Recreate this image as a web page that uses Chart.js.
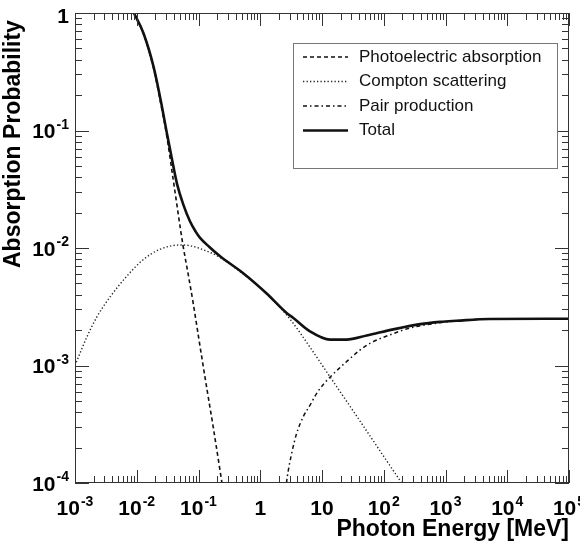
<!DOCTYPE html>
<html>
<head>
<meta charset="utf-8">
<script src="https://cdn.jsdelivr.net/npm/chart.js@4.4.1/dist/chart.umd.min.js"></script>
<style>
  html, body { margin: 0; padding: 0; background: #fff; }
  #wrap { width: 580px; height: 547px; position: relative; }
</style>
</head>
<body>
<div id="wrap"><canvas id="chart"></canvas></div>
<script>
// values (energy in MeV, probability)
const peEnergy = [0.009, 0.0129, 0.0187, 0.025, 0.0306, 0.039, 0.056, 0.068, 0.082, 0.106, 0.135, 0.173, 0.24];
const peProb = [1, 0.66, 0.34, 0.16, 0.09, 0.038, 0.0106, 0.006, 0.0034, 0.00145, 0.00066, 0.0003, 0.0001];

const comptonEnergy = [0.001, 0.00155, 0.00224, 0.00372, 0.0069, 0.012, 0.024, 0.05, 0.07, 0.1, 0.224, 0.53, 1.27, 3.0, 6.4, 13.5, 28, 61, 113, 195];
const comptonProb = [0.001, 0.00174, 0.00257, 0.00385, 0.00575, 0.00776, 0.00977, 0.0106, 0.0105, 0.01, 0.0083, 0.006, 0.0041, 0.0025, 0.00143, 0.0008, 0.000455, 0.000248, 0.000153, 0.0001];

const pairEnergy = [2.66, 2.74, 3.23, 3.89, 4.98, 6.4, 8.2, 10.5, 14.3, 25, 41, 61, 143, 300, 720, 1500, 5200, 100000];
const pairProb = [0.0001, 0.000113, 0.000179, 0.000265, 0.000367, 0.00046, 0.00058, 0.00069, 0.00082, 0.00108, 0.00135, 0.00155, 0.00187, 0.00212, 0.00229, 0.0024, 0.00249, 0.0025];

const totalEnergy = [0.009, 0.0129, 0.0187, 0.025, 0.031, 0.039, 0.045, 0.0566, 0.073, 0.09, 0.106, 0.15, 0.224, 0.53, 1.27, 2.67, 3.4, 6.4, 13.5, 25, 53, 143, 390, 820, 1500, 5200, 100000];
const totalProb = [1, 0.67, 0.35, 0.17, 0.093, 0.05, 0.035, 0.0235, 0.0168, 0.0138, 0.0122, 0.0102, 0.0085, 0.0061, 0.0041, 0.0028, 0.00255, 0.00195, 0.00166, 0.00166, 0.0018, 0.00203, 0.00225, 0.00235, 0.0024, 0.00249, 0.0025];

const xTickValues = [1e-3, 1e-2, 1e-1, 1, 10, 1e2, 1e3, 1e4, 1e5];
const xTickLabels = ["10^-3", "10^-2", "10^-1", "1", "10", "10^2", "10^3", "10^4", "10^5"];
const yTickValues = [1e-4, 1e-3, 1e-2, 1e-1, 1];
const yTickLabels = ["10^-4", "10^-3", "10^-2", "10^-1", "1"];

const FONT = "'Liberation Sans', Arial, Helvetica, sans-serif";

function pts(xs, ys) {
  return xs.map((x, i) => ({ x: x, y: ys[i] }));
}

function drawPow(ctx, label, x, y, align) {
  const parts = label.split("^");
  const base = parts[0], exp = parts[1] || "";
  ctx.font = "bold 21px " + FONT;
  const wb = ctx.measureText(base).width;
  ctx.font = "bold 14px " + FONT;
  const we = exp ? ctx.measureText(exp).width + 1 : 0;
  const w = wb + we;
  const x0 = align === "right" ? x - w : x - w / 2;
  ctx.textAlign = "left";
  ctx.textBaseline = "alphabetic";
  ctx.font = "bold 21px " + FONT;
  ctx.fillText(base, x0, y);
  if (exp) {
    ctx.font = "bold 14px " + FONT;
    ctx.fillText(exp, x0 + wb + 1, y - 9.5);
  }
}

const axesPlugin = {
  id: "axesPlugin",
  afterDatasetsDraw(chart) {
    const ctx = chart.ctx;
    const a = chart.chartArea;
    const xs = chart.scales.x, ys = chart.scales.y;
    ctx.save();

    // frame
    ctx.strokeStyle = "#333";
    ctx.lineWidth = 1;
    ctx.setLineDash([]);
    ctx.strokeRect(a.left + 0.5, a.top + 0.5, a.right - a.left - 1, a.bottom - a.top - 1);

    // inward ticks
    ctx.beginPath();
    for (let d = -3; d <= 5; d++) {
      for (let m = 1; m <= 9; m++) {
        const v = m * Math.pow(10, d);
        if (v > 1e5 * 1.0001) break;
        const px = Math.round(xs.getPixelForValue(v)) + 0.5;
        const len = m === 1 ? 13 : 7;
        ctx.moveTo(px, a.bottom); ctx.lineTo(px, a.bottom - len);
        ctx.moveTo(px, a.top); ctx.lineTo(px, a.top + len);
      }
    }
    for (let d = -4; d <= 0; d++) {
      for (let m = 1; m <= 9; m++) {
        const v = m * Math.pow(10, d);
        if (v > 1.0001) break;
        const py = Math.round(ys.getPixelForValue(v)) + 0.5;
        const len = m === 1 ? 14 : 7;
        ctx.moveTo(a.left, py); ctx.lineTo(a.left + len, py);
        ctx.moveTo(a.right, py); ctx.lineTo(a.right - len, py);
      }
    }
    ctx.stroke();

    // tick labels
    ctx.fillStyle = "#000";
    xTickValues.forEach((v, i) => {
      drawPow(ctx, xTickLabels[i], xs.getPixelForValue(v), 515, "center");
    });
    yTickValues.forEach((v, i) => {
      const py = ys.getPixelForValue(v);
      drawPow(ctx, yTickLabels[i], 69, Math.max(py + 7.5, 23), "right");
    });

    // axis titles
    ctx.font = "bold 23px " + FONT;
    ctx.textAlign = "right";
    ctx.textBaseline = "alphabetic";
    ctx.fillText("Photon Energy [MeV]", a.right, 536);
    ctx.save();
    ctx.translate(20, 268);
    ctx.rotate(-Math.PI / 2);
    ctx.textAlign = "left";
    ctx.fillText("Absorption Probability", 0, 0);
    ctx.restore();

    // legend
    const lx = 293, ly = 43, lw = 264, lh = 125;
    ctx.fillStyle = "#fff";
    ctx.fillRect(lx, ly, lw, lh);
    ctx.strokeStyle = "#777";
    ctx.lineWidth = 1;
    ctx.strokeRect(lx + 0.5, ly + 0.5, lw, lh);
    ctx.font = "17px " + FONT;
    ctx.textAlign = "left";
    ctx.textBaseline = "middle";
    chart.data.datasets.forEach((ds, i) => {
      const cy = 57 + i * 24.5;
      ctx.strokeStyle = ds.borderColor;
      ctx.lineWidth = ds.borderWidth;
      ctx.setLineDash(ds.borderDash || []);
      ctx.beginPath();
      ctx.moveTo(303, cy);
      ctx.lineTo(348, cy);
      ctx.stroke();
      ctx.setLineDash([]);
      ctx.fillStyle = "#111";
      ctx.fillText(ds.label, 359, cy);
    });

    ctx.restore();
  }
};

new Chart(document.getElementById("chart"), {
  type: "line",
  data: {
    datasets: [
      {
        label: "Photoelectric absorption",
        data: pts(peEnergy, peProb),
        borderColor: "#111",
        borderWidth: 1.6,
        borderDash: [4, 3],
        order: 1
      },
      {
        label: "Compton scattering",
        data: pts(comptonEnergy, comptonProb),
        borderColor: "#222",
        borderWidth: 1.4,
        borderDash: [1.3, 2.2],
        order: 2
      },
      {
        label: "Pair production",
        data: pts(pairEnergy, pairProb),
        borderColor: "#111",
        borderWidth: 1.5,
        borderDash: [4, 3, 1.5, 3],
        order: 3
      },
      {
        label: "Total",
        data: pts(totalEnergy, totalProb),
        borderColor: "#111",
        borderWidth: 2.6,
        order: 0
      }
    ]
  },
  options: {
    responsive: true,
    maintainAspectRatio: false,
    animation: false,
    devicePixelRatio: 1,
    layout: { padding: { left: 75, top: 13, right: 11, bottom: 64 } },
    elements: {
      point: { radius: 0, hoverRadius: 0 },
      line: { cubicInterpolationMode: "monotone", fill: false }
    },
    scales: {
      x: { type: "logarithmic", min: 1e-3, max: 1e5, display: false },
      y: { type: "logarithmic", min: 1e-4, max: 1, display: false }
    },
    plugins: {
      legend: { display: false },
      tooltip: { enabled: false }
    }
  },
  plugins: [axesPlugin]
});
</script>
</body>
</html>
